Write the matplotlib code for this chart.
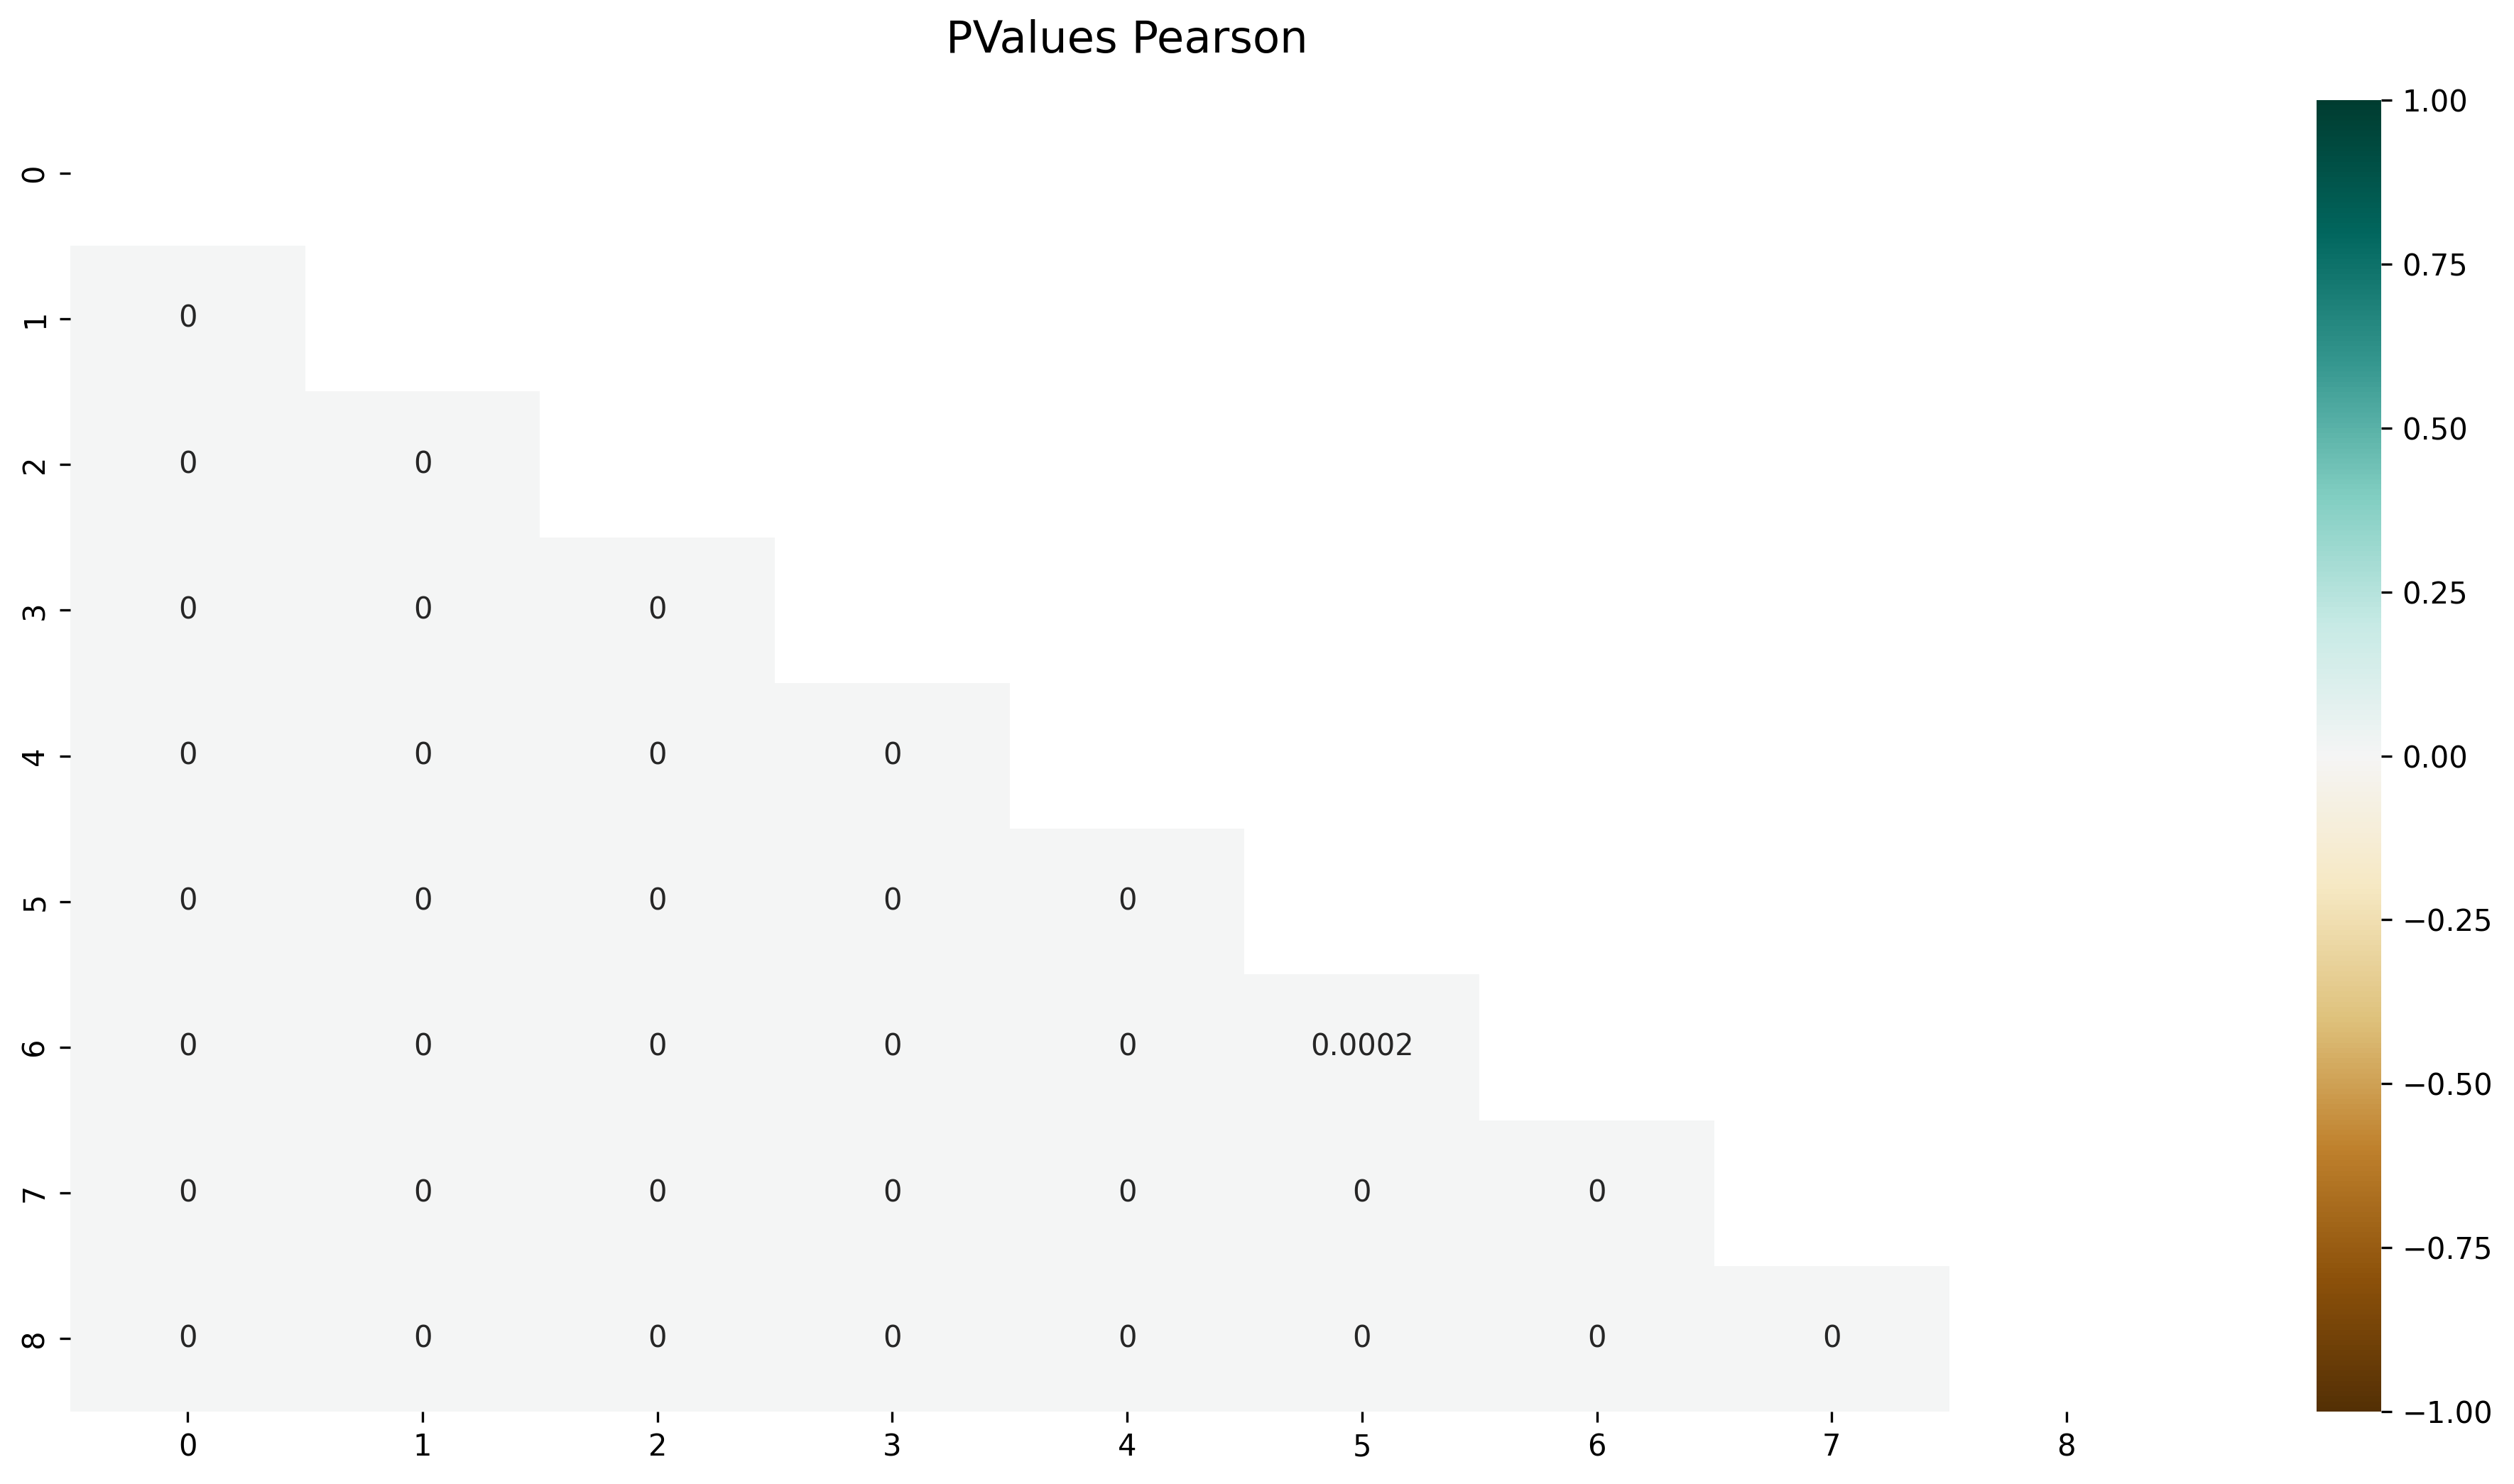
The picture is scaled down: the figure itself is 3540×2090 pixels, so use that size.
import numpy as np
import pandas as pd
import matplotlib
matplotlib.use("Agg")
import matplotlib.pyplot as plt
import seaborn as sns

# p-valores de Pearson (triangulo inferior, redondeados a 4 decimales)
etiquetas = [0, 1, 2, 3, 4, 5, 6, 7, 8]
fila_1 = [0]
fila_2 = [0, 0]
fila_3 = [0, 0, 0]
fila_4 = [0, 0, 0, 0]
fila_5 = [0, 0, 0, 0, 0]
fila_6 = [0, 0, 0, 0, 0, 0.0002]
fila_7 = [0, 0, 0, 0, 0, 0, 0]
fila_8 = [0, 0, 0, 0, 0, 0, 0, 0]
filas = [[], fila_1, fila_2, fila_3, fila_4, fila_5, fila_6, fila_7, fila_8]

n = len(etiquetas)
matriz = np.zeros((n, n))
for i, fila in enumerate(filas):
    for j, v in enumerate(fila):
        matriz[i, j] = v
        matriz[j, i] = v
pvalores = pd.DataFrame(matriz, index=etiquetas, columns=etiquetas)

# Mascara del triangulo superior (incluye diagonal)
mascara = np.triu(np.ones_like(matriz, dtype=bool))

fig = plt.figure(figsize=(11.8, 6.9667), dpi=300)
ax = fig.add_axes([0.0280, 0.0488, 0.8407, 0.8837])
cax = fig.add_axes([0.9215, 0.0488, 0.0257, 0.8837])

sns.heatmap(pvalores, mask=mascara, vmin=-1, vmax=1, cmap='BrBG',
            annot=True, ax=ax, cbar_ax=cax)

plt.setp(ax.get_yticklabels(), rotation=90, va='center')
ax.set_title('PValues Pearson', fontsize=15, pad=16)

plt.savefig('out.png', dpi=300)
